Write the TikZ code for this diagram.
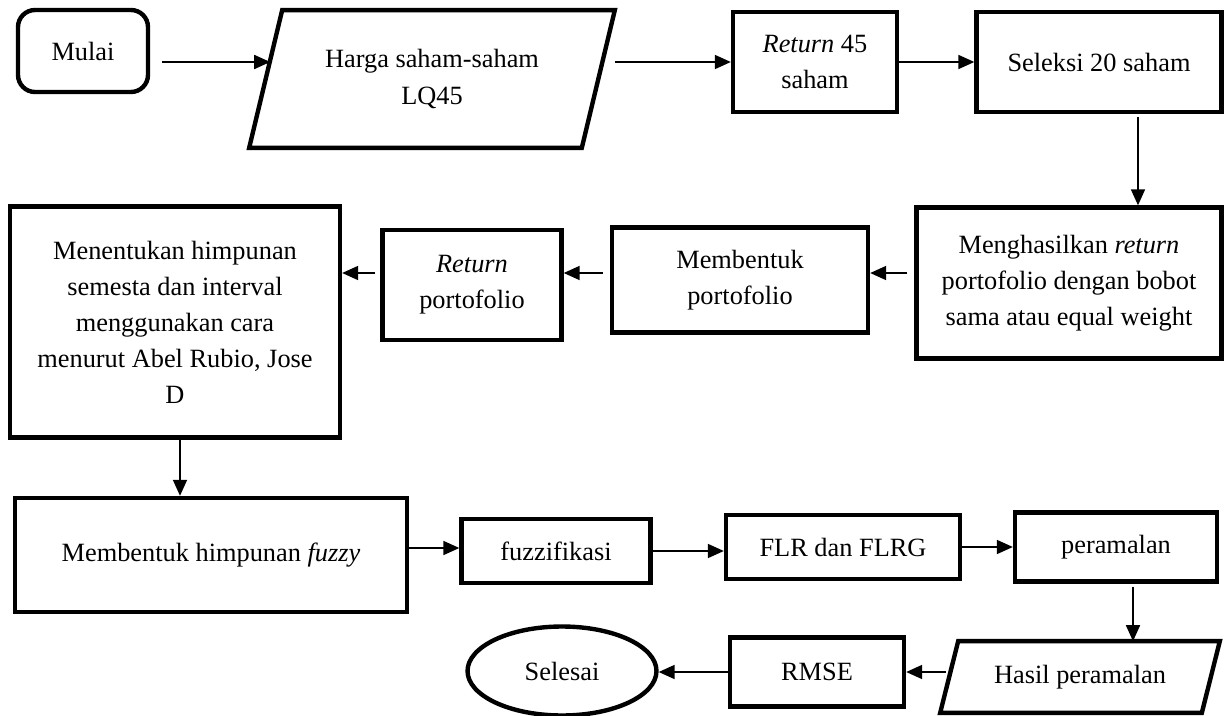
\documentclass[tikz,border=0pt]{standalone}
\usepackage{fontspec}
\setmainfont{Liberation Serif}
\usepackage{tikz}
\usetikzlibrary{arrows.meta}
\usetikzlibrary{positioning,shapes.geometric}

\begin{document}
\begin{tikzpicture}[x=0.02cm,y=-0.02cm]
  \tikzset{
    every node/.style={font=\fontsize{15}{20.5}\selectfont, align=center},
    process/.style={
      draw,
      rectangle,
      line width=2.5pt,
      inner sep=0pt
    },
    terminal/.style={
      process,
      rounded corners=0.34cm
    },
    io/.style={
      rectangle,
      inner sep=0pt
    },
    ioline/.style={
      line width=2.5pt,
      line join=miter
    },
    flow/.style={
      draw,
      line width=1pt,
      -{Triangle[length=0.32cm, width=0.28cm]}
    }
  }
  \useasboundingbox (0,0) rectangle (1224,716);

  % First row
  \node[terminal, minimum width=2.6cm, minimum height=1.64cm] (mulai) at (83,51) {Mulai};
  \node[io, minimum width=7.3cm, minimum height=2.74cm] (harga) at (432,79) {Harga saham-saham\\LQ45};
  \draw[ioline] ([xshift=0.66cm]harga.north west) -- (harga.north east)
    -- ([xshift=-0.66cm]harga.south east) -- (harga.south west) -- cycle;
  \node[process, minimum width=3.28cm, minimum height=2cm] (ret45) at (815,62) {\textit{Return} 45\\saham};
  \node[process, minimum width=4.9cm, minimum height=2cm] (seleksi) at (1099,62) {Seleksi 20 saham};

  % Second row
  \node[process, minimum width=6.1cm, minimum height=3.02cm] (hasilret) at (1069,283) {Menghasilkan \textit{return}\\portofolio dengan bobot\\sama atau equal weight};
  \node[process, minimum width=5.12cm, minimum height=2.1cm] (bentukport) at (740,280) {Membentuk\\portofolio};
  \node[process, minimum width=3.58cm, minimum height=2.2cm] (retport) at (472,285) {\textit{Return}\\portofolio};
  \node[process, minimum width=6.6cm, minimum height=4.62cm] (semesta) at (175,322) {Menentukan himpunan\\semesta dan interval\\menggunakan cara\\menurut Abel Rubio, Jose\\D};

  % Third row
  \node[process, minimum width=7.84cm, minimum height=2.28cm] (himfuzzy) at (211,555) {Membentuk himpunan \textit{fuzzy}};
  \node[process, minimum width=3.78cm, minimum height=1.28cm] (fuzzifikasi) at (556,551) {fuzzifikasi};
  \node[process, minimum width=4.68cm, minimum height=1.28cm] (flr) at (843,547) {FLR dan FLRG};
  \node[process, minimum width=4.04cm, minimum height=1.38cm] (ramal) at (1116,547) {peramalan};

  % Last row
  \node[io, minimum width=5.58cm, minimum height=1.42cm] (hasil) at (1080,677) {Hasil peramalan};
  \draw[ioline] ([xshift=0.36cm]hasil.north west) -- (hasil.north east)
    -- ([xshift=-0.36cm]hasil.south east) -- (hasil.south west) -- cycle;
  \node[process, minimum width=3.48cm, minimum height=1.38cm] (rmse) at (817,672) {RMSE};
  \node[draw, ellipse, line width=2.5pt, minimum width=3.78cm, minimum height=1.78cm, inner sep=0pt] (selesai) at (562,671) {Selesai};

  % Arrows
  \draw[flow, shorten <=0.24cm] ([yshift=-0.22cm]mulai.east) -- ([yshift=-0.22cm,xshift=0.42cm]mulai.east -| harga.west);
  \draw[flow, shorten <=0.2cm] ([xshift=-0.2cm]ret45.west -| harga.east) -- (ret45.west);
  \draw[flow] (ret45.east) -- (seleksi.west);
  \draw[flow, shorten <=0.06cm] ([xshift=0.78cm]seleksi.south) -- ([xshift=0.78cm]seleksi.south |- hasilret.north);
  \draw[flow, shorten <=0.14cm] ([yshift=0.14cm]bentukport.east -| hasilret.west) -- ([yshift=0.14cm]bentukport.east);
  \draw[flow, shorten <=0.14cm] ([yshift=0.14cm]bentukport.west) -- ([yshift=0.14cm]bentukport.west -| retport.east);
  \draw[flow, shorten <=0.1cm] ([yshift=0.14cm]bentukport.west -| retport.west) -- ([yshift=0.14cm]bentukport.west -| semesta.east);
  \draw[flow] ([xshift=0.1cm]semesta.south) -- ([xshift=0.1cm]semesta.south |- himfuzzy.north);
  \draw[flow] ([yshift=0.06cm]fuzzifikasi.west -| himfuzzy.east) -- ([yshift=0.06cm]fuzzifikasi.west);
  \draw[flow] (fuzzifikasi.east) -- (fuzzifikasi.east -| flr.west);
  \draw[flow] (flr.east) -- (flr.east -| ramal.west);
  \draw[flow, shorten <=0.06cm] ([xshift=0.34cm]ramal.south) -- ([xshift=0.34cm]ramal.south |- hasil.north);
  \draw[flow, shorten <=0.06cm] ([xshift=0.18cm]rmse.east -| hasil.west) -- (rmse.east);
  \draw[flow] (rmse.west) -- (rmse.west -| selesai.east);
\end{tikzpicture}
\end{document}
